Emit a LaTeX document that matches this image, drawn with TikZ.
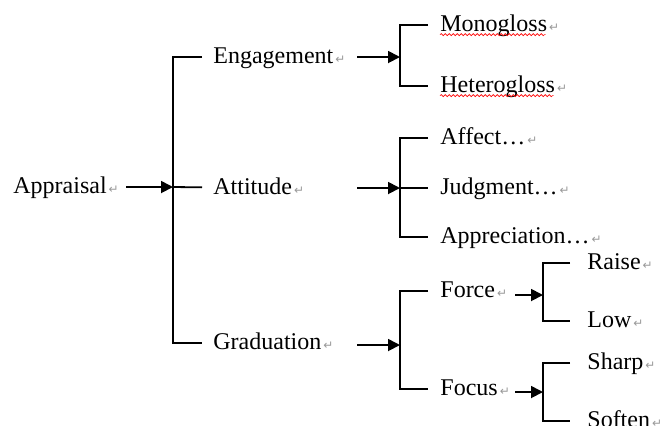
\documentclass[tikz,border=0pt]{standalone}
\usepackage{fontspec}
\setmainfont{Liberation Serif}
\newfontfamily\marksfont{DejaVu Sans}
\usepackage{tikz}
\usetikzlibrary{arrows.meta,decorations.pathmorphing}

% paragraph mark after each word
\newcommand{\pmk}{{\marksfont\fontsize{6}{6}\selectfont\color{black!40}\,↵}}

\tikzset{
  label/.style={anchor=west, inner sep=0pt, text height=8.5pt, text depth=2.5pt,
                font=\fontsize{12}{14}\selectfont},
  branch/.style={line width=0.9pt},
  arr/.style={line width=0.9pt, -{Triangle[length=6pt,width=6pt]}},
  spell/.style={red, line width=0.3pt, decorate,
                decoration={snake, amplitude=0.5pt, segment length=2pt}}
}

\begin{document}
\begin{tikzpicture}[x=0.5pt, y=-0.5pt]

  \useasboundingbox (0,0) rectangle (662,425);

  % -- words ---------------------------------------------------------------
  \node[label] (appraisal) at (13,187) {Appraisal\pmk};

  \node[label] (engagement) at (213,57)  {Engagement\pmk};
  \node[label] (attitude)   at (213,188) {Attitude\pmk};
  \node[label] (graduation) at (213,343) {Graduation\pmk};

  \node[label] (mono)   at (440,25) {Monogloss\pmk};
  \node[label] (hetero) at (440,86) {Heterogloss\pmk};

  \node[label] (affect)   at (440,138) {Affect…\pmk};
  \node[label] (judgment) at (440,188) {Judgment…\pmk};
  \node[label] (apprec)   at (440,237) {Appreciation…\pmk};

  \node[label] (force) at (440,291) {Force\pmk};
  \node[label] (focus) at (440,389) {Focus\pmk};

  \node[label] (raise)  at (587,263) {Raise\pmk};
  \node[label] (low)    at (587,321) {Low\pmk};
  \node[label] (sharp)  at (587,363) {Sharp\pmk};
  \node[label] (soften) at (587,421) {Soften\pmk};

  % -- spines and arrow tails ----------------------------------------------
  \coordinate (s1) at (173,187);
  \coordinate (s2) at (400,57);  \coordinate (t2) at (357,57);
  \coordinate (s3) at (400,188); \coordinate (t3) at (357,188);
  \coordinate (s4) at (400,345); \coordinate (t4) at (357,345);
  \coordinate (s5) at (543,295); \coordinate (t5) at (515,295);
  \coordinate (s6) at (543,392); \coordinate (t6) at (515,392);

  % -- arrows ---------------------------------------------------------------
  \draw[arr, shorten <=3.5pt] (appraisal) -- (s1);
  \draw[arr] (t2) -- (s2);
  \draw[arr] (t3) -- (s3);
  \draw[arr] (t4) -- (s4);
  \draw[arr] (t5) -- (s5);
  \draw[arr] (t6) -- (s6);

  % -- brackets -------------------------------------------------------------
  \draw[branch, shorten <=5.5pt, shorten >=5.5pt] (engagement) -| (s1) |- (graduation);
  \draw[branch, shorten >=5.5pt] (s1) -- (attitude);

  \draw[branch, shorten <=6pt, shorten >=6pt] (mono) -| (s2) |- (hetero);

  \draw[branch, shorten <=6pt, shorten >=6pt] (affect) -| (s3) |- (apprec);
  \draw[branch, shorten >=6pt] (s3) -- (judgment);

  \draw[branch, shorten <=6pt, shorten >=6pt] (force) -| (s4) |- (focus);

  \draw[branch, shorten <=8.5pt, shorten >=8.5pt] (raise) -| (s5) |- (low);
  \draw[branch, shorten <=8.5pt, shorten >=8.5pt] (sharp) -| (s6) |- (soften);

  % -- spelling marks -------------------------------------------------------
  \draw[spell] ([yshift=-1.8pt]mono.base west) -- ([xshift=-7pt,yshift=-1.8pt]mono.base east);
  \draw[spell] ([yshift=-1.8pt]hetero.base west) -- ([xshift=-7pt,yshift=-1.8pt]hetero.base east);

\end{tikzpicture}
\end{document}
